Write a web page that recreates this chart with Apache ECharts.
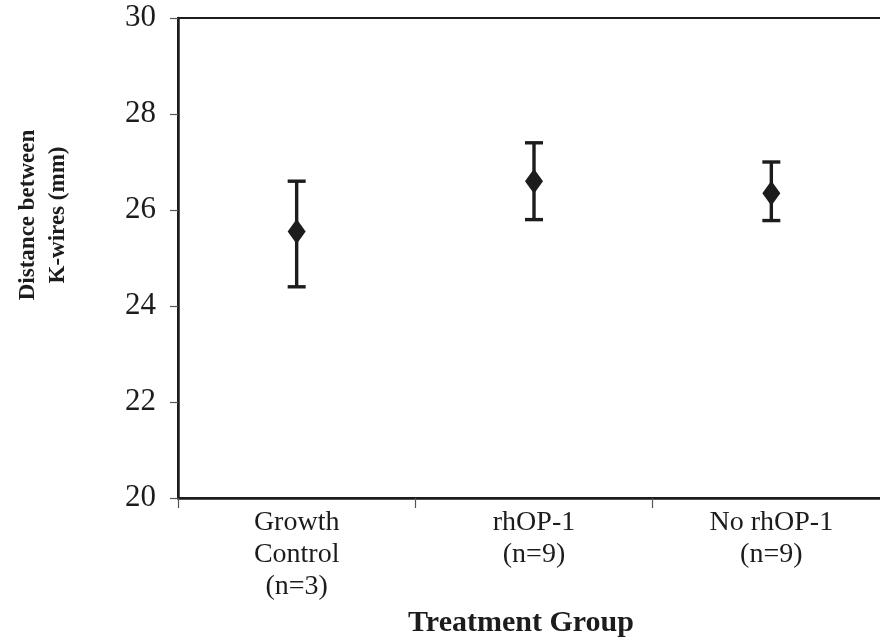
<!DOCTYPE html>
<html>
<head>
<meta charset="utf-8">
<script src="https://cdn.jsdelivr.net/npm/echarts@6/dist/echarts.min.js"></script>
<style>html,body{margin:0;padding:0;background:#fff}#c{width:880px;height:643px}</style>
</head>
<body>
<div id="c"></div>
<script>
const categories = ['Growth\nControl\n(n=3)', 'rhOP-1\n(n=9)', 'No rhOP-1\n(n=9)'];
const means = [25.55, 26.6, 26.35];
const lower = [24.4, 25.8, 25.78];
const upper = [26.6, 27.4, 27.0];
const yTicks = [20, 22, 24, 26, 28, 30];

const ink = '#1c1c1c';
const serif = '"Liberation Serif", "DejaVu Serif", serif';
const chart = echarts.init(document.getElementById('c'));
chart.setOption({
  animation: false,
  backgroundColor: '#fff',
  grid: { left: 178, top: 18, width: 712, height: 480, outerBoundsMode: 'none', containLabel: false,
          show: true, borderColor: ink, borderWidth: 2, backgroundColor: 'transparent' },
  xAxis: {
    type: 'category',
    data: categories,
    boundaryGap: true,
    axisLine: { lineStyle: { color: ink, width: 2.5 } },
    axisTick: { show: true, length: 10, lineStyle: { color: '#555', width: 1.2 } },
    axisLabel: { color: ink, fontFamily: serif, fontSize: 28, lineHeight: 32, margin: 9 }
  },
  yAxis: {
    type: 'value',
    min: yTicks[0], max: yTicks[yTicks.length - 1], interval: 2,
    axisLine: { show: true, lineStyle: { color: ink, width: 2.5 } },
    axisTick: { show: true, length: 8, lineStyle: { color: '#555', width: 1.2 } },
    splitLine: { show: false },
    axisLabel: { color: ink, fontFamily: serif, fontSize: 31, margin: 22 }
  },
  graphic: [
    { type: 'text', x: 43, y: 215, rotation: Math.PI / 2,
      style: { text: 'Distance between\nK-wires (mm)', fontFamily: serif, fontWeight: 'bold', fontSize: 23, lineHeight: 30, fill: ink, textAlign: 'center', textVerticalAlign: 'middle' } },
    { type: 'text', x: 521, y: 623,
      style: { text: 'Treatment Group', fontFamily: serif, fontWeight: 'bold', fontSize: 30, fill: ink, textAlign: 'center', textVerticalAlign: 'middle' } }
  ],
  series: [
    {
      type: 'custom',
      data: categories.map((c, i) => [i, lower[i], upper[i]]),
      renderItem: function (params, api) {
        const lo = api.coord([api.value(0), api.value(1)]);
        const hi = api.coord([api.value(0), api.value(2)]);
        const hw = 9;
        const st = { stroke: ink, lineWidth: 3.4 };
        return { type: 'group', children: [
          { type: 'line', shape: { x1: lo[0], y1: lo[1], x2: hi[0], y2: hi[1] }, style: st },
          { type: 'line', shape: { x1: lo[0] - hw, y1: lo[1], x2: lo[0] + hw, y2: lo[1] }, style: st },
          { type: 'line', shape: { x1: hi[0] - hw, y1: hi[1], x2: hi[0] + hw, y2: hi[1] }, style: st }
        ] };
      },
      z: 2
    },
    {
      type: 'scatter',
      data: means,
      symbol: 'diamond',
      symbolSize: [18, 25],
      itemStyle: { color: ink, opacity: 1 },
      z: 3
    }
  ]
});
</script>
</body>
</html>
